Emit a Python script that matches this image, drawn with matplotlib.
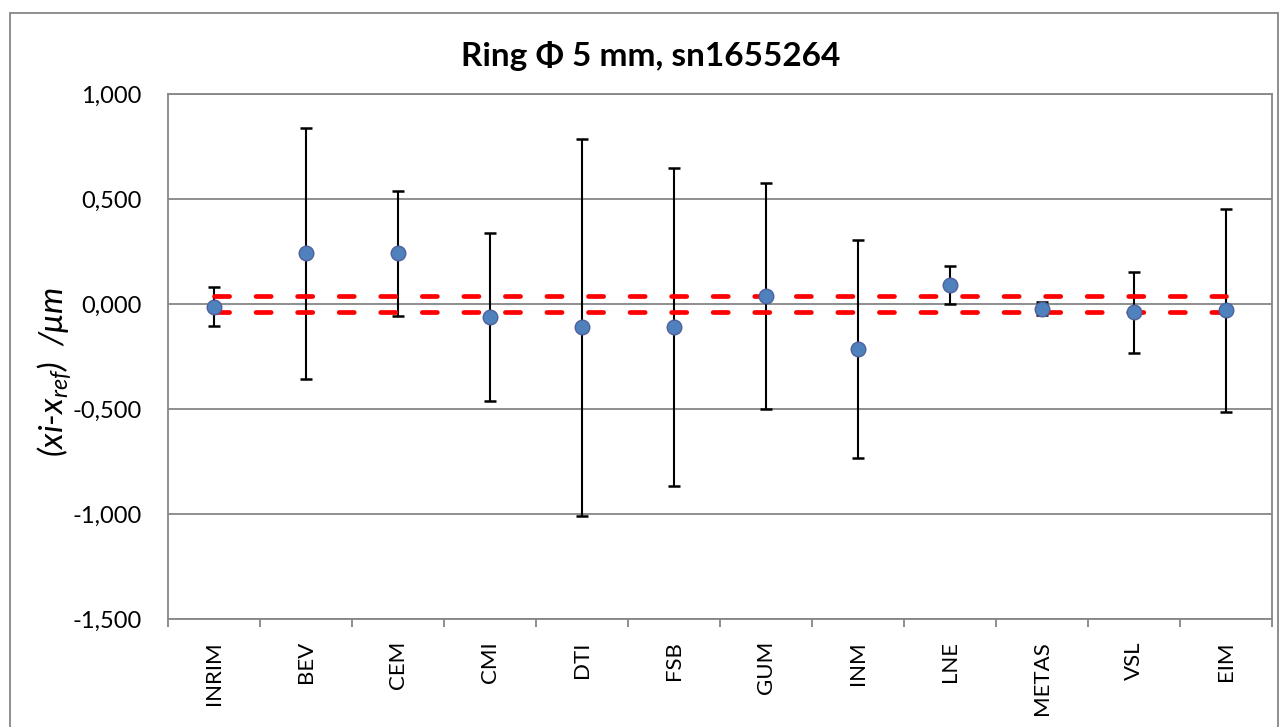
import numpy as np
import matplotlib
matplotlib.use("Agg")
import matplotlib.pyplot as plt
from matplotlib.patches import Rectangle
from matplotlib.ticker import FuncFormatter, FixedLocator

plt.rcParams['font.family'] = ['Lato', 'DejaVu Sans']
plt.rcParams['mathtext.fontset'] = 'custom'
plt.rcParams['mathtext.rm'] = 'Lato'
plt.rcParams['mathtext.it'] = 'Lato:italic'

# dati
labs = ['INRIM', 'BEV', 'CEM', 'CMI', 'DTI', 'FSB', 'GUM', 'INM', 'LNE', 'METAS', 'VSL', 'EIM']
dev = [-0.012, 0.241, 0.241, -0.062, -0.111, -0.111, 0.038, -0.213, 0.089, -0.022, -0.040, -0.030]
U = [0.092, 0.597, 0.296, 0.398, 0.898, 0.758, 0.538, 0.518, 0.091, 0.030, 0.193, 0.484]
U_ref = 0.039
ylims = (-1.5, 1.0)
yticks = [-1.5, -1.0, -0.5, 0.0, 0.5, 1.0]

fig = plt.figure(figsize=(12.8, 7.27), dpi=100)
ax = fig.add_axes([168/1280, 1-619/727, (1272-168)/1280, (619-94)/727])

x = np.arange(1, len(labs) + 1)
grigio = '#868686'

for y in yticks:
    ax.axhline(y, color=grigio, lw=1.3, zorder=1)

ax.errorbar(x, dev, yerr=U, fmt='none', ecolor='black', elinewidth=1.5,
            capsize=4.5, capthick=1.8, zorder=3)

for s in (1, -1):
    ax.plot([x[0], x[-1]], [s*U_ref, s*U_ref], color='#FF0000', lw=3.4,
            dashes=(3.2, 5.6), dash_capstyle='round', zorder=4)

ax.plot(x, dev, 'o', ms=10.5, mfc='#4F81BD', mec='#50609A', mew=1.0, zorder=5)

ax.set_xlim(0.5, len(labs) + 0.5)
ax.set_ylim(*ylims)
ax.set_yticks(yticks)
ax.yaxis.set_major_formatter(FuncFormatter(lambda v, p: f"{v:.3f}".replace('.', ',')))
ax.tick_params(axis='y', length=0, pad=19, labelsize=17)

ax.set_xticks(x)
ax.set_xticklabels(labs, rotation=90, fontsize=16)
ax.xaxis.set_minor_locator(FixedLocator(np.arange(0.5, len(labs) + 1, 1)))
ax.tick_params(axis='x', which='major', length=0, pad=16)
ax.tick_params(axis='x', which='minor', length=6, width=1.3, color=grigio)

for sp in ax.spines.values():
    sp.set_color(grigio)
    sp.set_linewidth(1.3)

fig.text(55/1280, 1-372/727, r'(xi-x$_{ref}$)  /μm', rotation=90, style='italic',
         fontsize=24, ha='center', va='center')
fig.text(651/1280, 1-56/727, 'Ring Φ 5 mm, sn1655264', fontsize=24, fontweight='bold',
         ha='center', va='center')

fig.patches.append(Rectangle((10/1280, -0.01), (1278-10)/1280, 1-13/727+0.01,
                             transform=fig.transFigure, fill=False, ec=grigio, lw=1.3))

fig.savefig('out.png', dpi=100)
